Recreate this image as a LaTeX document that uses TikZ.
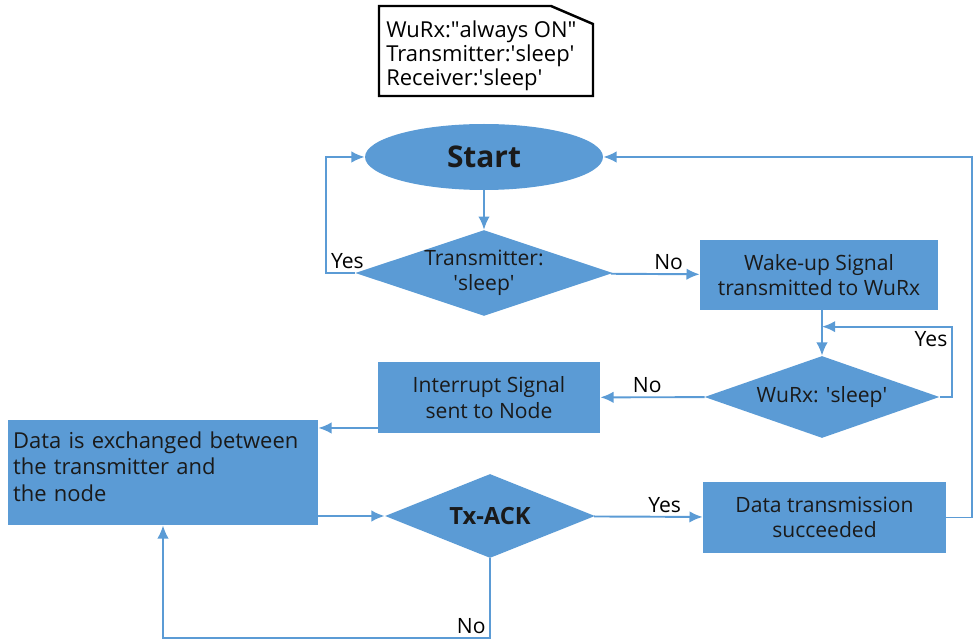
\documentclass[tikz,border=0pt]{standalone}
\usepackage{fontspec}
\setmainfont{Open Sans}
\usetikzlibrary{shapes.geometric,arrows.meta}
\definecolor{flowblue}{HTML}{5B9BD5}
\definecolor{inktext}{HTML}{1A1A1A}
\begin{document}
\begin{tikzpicture}[x=0.02cm,y=-0.02cm,
    font=\fontsize{12}{14.5}\selectfont, text=inktext,
    startnode/.style={ellipse, fill=flowblue, minimum width=4.76cm, minimum height=1.32cm, inner sep=0pt, font=\fontsize{17}{20}\selectfont\bfseries},
    decision/.style={diamond, fill=flowblue, aspect=3, inner sep=0pt, align=center},
    process/.style={rectangle, fill=flowblue, inner sep=2pt, align=center},
    flow/.style={draw=flowblue, line width=1.1pt, -{Latex[length=7.5pt,width=6.5pt]}},
    lbl/.style={text=black, inner sep=2pt}]
    \useasboundingbox (0,0) rectangle (977,644);
    % state note
    \draw[line width=1.4pt] (379,6) -- (551,6) -- (593,24) -- (593,96) -- (379,96) -- cycle;
    \node[anchor=west, align=left, inner sep=0pt, font=\fontsize{12.5}{13.8}\selectfont, text=black] (state) at (386,56)
        {WuRx:\textquotedbl always ON\textquotedbl\\Transmitter:\textquotesingle sleep\textquotesingle\\Receiver:\textquotesingle sleep\textquotesingle};
    % blocks
    \node[startnode] (start) at (484,157) {Start};
    \node[decision, minimum width=5.02cm, minimum height=1.68cm] (txsleep) at (484,273) {Transmitter:\\\textquotesingle sleep\textquotesingle};
    \node[process, minimum width=4.76cm, minimum height=1.4cm] (wakeup) at (819,275) {Wake-up Signal\\transmitted to WuRx};
    \node[decision, minimum width=4.7cm, minimum height=1.64cm] (wurx) at (822,397) {WuRx: \textquotesingle sleep\textquotesingle};
    \node[process, minimum width=4.44cm, minimum height=1.42cm] (interrupt) at (489,397.5) {Interrupt Signal\\sent to Node};
    \node[process, minimum width=6.2cm, minimum height=2.1cm, text width=6cm, align=left, font=\fontsize{12.5}{15}\selectfont] (exchange) at (163,472.5)
        {Data is exchanged between\\the transmitter and\\the node\\[-8pt]\mbox{}};
    \node[decision, minimum width=4.2cm, minimum height=1.68cm, font=\fontsize{13.5}{15}\selectfont\bfseries] (txack) at (490,516) {Tx-ACK};
    \node[process, minimum width=4.86cm, minimum height=1.42cm] (succeeded) at (824.5,517.5) {Data transmission\\succeeded};
    % connectors
    \draw[flow] (start) -- (txsleep);
    \draw[flow] (txsleep.west) -- node[lbl, above, xshift=4pt]{Yes} ++(-29,0) |- (start.west);
    \draw[flow] (txsleep) -- node[lbl, above, pos=0.65]{No} (wakeup);
    \draw[flow] (wurx.north |- wakeup.south) -- (wurx.north);
    \draw[flow] (wurx.east) -- ++(12,0) |- node[lbl, below left, pos=0.5]{Yes} ([yshift=0.58cm]wurx.north);
    \draw[flow] (wurx) -- node[lbl, above, pos=0.55]{No} (interrupt);
    \draw[flow] ([yshift=-0.61cm]interrupt.west) -- ([yshift=-0.61cm]interrupt.west -| exchange.east);
    \draw[flow] (exchange.east |- txack.west) -- (txack.west);
    \draw[flow] (txack) -- node[lbl, above, pos=0.65]{Yes} (succeeded);
    \draw[flow] (succeeded.east) -- ++(26,0) |- (start.east);
    \draw[flow] (txack.south) -- ++(0,80) node[lbl, above left]{No} -| (exchange.south);
\end{tikzpicture}
\end{document}
